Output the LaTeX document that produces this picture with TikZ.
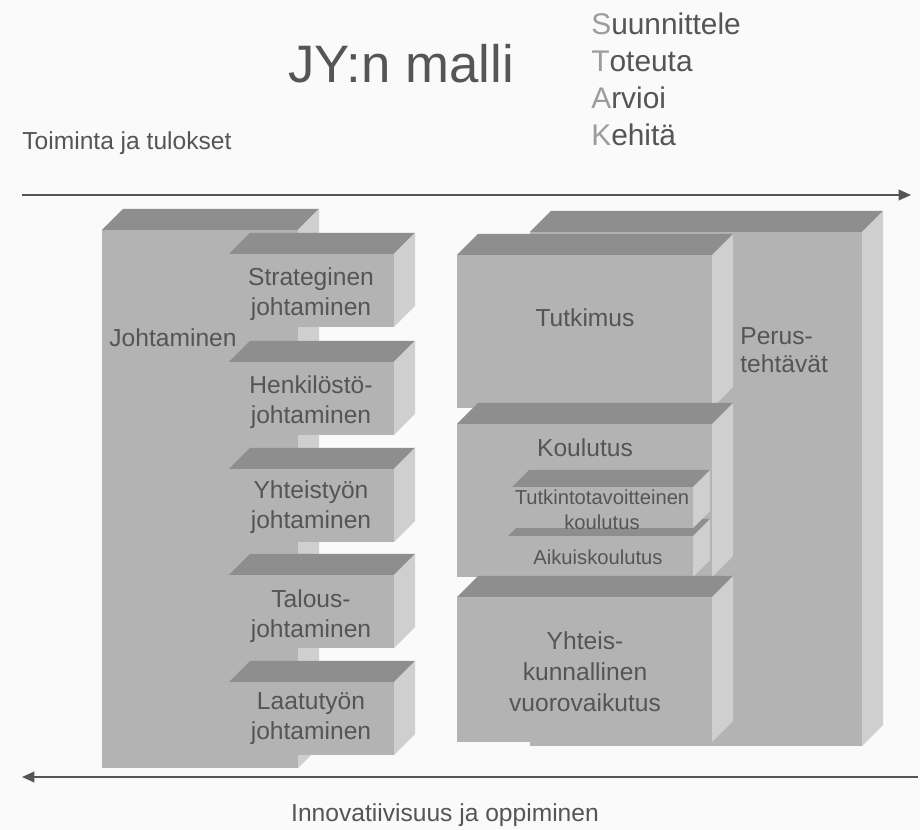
\documentclass[tikz,border=0pt]{standalone}
\usepackage{fontspec}
\setmainfont{Liberation Sans}
\usetikzlibrary{arrows.meta}

\definecolor{etu}{HTML}{B3B3B3}
\definecolor{katto}{HTML}{8E8E8E}
\definecolor{kylki}{HTML}{CFCFCF}
\definecolor{teksti}{HTML}{555555}
\definecolor{vaalea}{HTML}{9C9C9C}

% 3D-laatikko: etusivun vasen yläkulma (#1,#2), oikea alakulma (#3,#4), syvyys #5
\newcommand{\laatikko}[5]{%
  \fill[etu] (#1,#2) rectangle (#3,#4);
  \fill[katto] (#1,#2) -- (#3,#2) -- ++(#5,-#5) -- (#1+#5,#2-#5) -- cycle;
  \fill[kylki] (#3,#2) -- ++(#5,-#5) -- (#3+#5,#4-#5) -- (#3,#4) -- cycle;}

\begin{document}
\begin{tikzpicture}[x=0.02cm,y=-0.02cm,
    lbl/.style={text=teksti,font=\fontsize{14}{17}\selectfont,align=center,inner sep=0pt},
    pieni/.style={lbl,font=\fontsize{11.5}{14}\selectfont},
    nuoli/.style={draw=teksti,line width=1.1pt,-{Triangle[length=7pt,width=6pt]}}]
    \path[use as bounding box,fill=white!98!black] (0,0) rectangle (920,830);

    % otsikot
    \node[text=teksti,font=\fontsize{30}{36}\selectfont,anchor=base west,inner sep=0pt]
        (otsikko) at (288,83) {JY:n malli};
    \foreach \i/\a/\b in {0/S/uunnittele,1/T/oteuta,2/A/rvioi,3/K/ehitä}
        \node[font=\fontsize{17}{20}\selectfont,anchor=base west,inner sep=0pt]
            (vaihe\i) at (591,35+36.7*\i) {\textcolor{vaalea}{\a}\textcolor{teksti}{\b}};
    \node[lbl,anchor=west] (toiminta) at (22,143) {Toiminta ja tulokset};
    \node[lbl] (innovaatio) at (445,815) {Innovatiivisuus ja oppiminen};

    % nuolet
    \coordinate (ylaA) at (22,195);
    \coordinate (ylaB) at (911,195);
    \coordinate (alaA) at (918,777);
    \coordinate (alaB) at (22,777);
    \draw[nuoli] (ylaA) -- (ylaB);
    \draw[nuoli] (alaA) -- (alaB);

    % johtaminen
    \laatikko{102}{230}{298}{768}{21}
    \foreach \y in {254,362,469,575,682}{
        \laatikko{229}{\y}{394}{\y+73}{21}}

    % perustehtävät
    \laatikko{530}{232}{862}{746}{21}
    \laatikko{457}{255}{712}{408}{21}
    \laatikko{457}{424}{712}{577}{21}
    \laatikko{508}{536}{693}{577}{17}
    \laatikko{512}{487}{693}{528}{17}
    \laatikko{457}{597}{712}{742}{21}

    % tekstit
    \node[lbl] (johtaminen) at (173,338) {Johtaminen};
    \node[lbl] (strateginen) at (311,294) {Strateginen\\johtaminen};
    \node[lbl] (henkilosto) at (311,402) {Henkilöstö-\\johtaminen};
    \node[lbl] (yhteistyo) at (311,507) {Yhteistyön\\johtaminen};
    \node[lbl] (talous) at (311,616) {Talous-\\johtaminen};
    \node[lbl] (laatutyo) at (311,719) {Laatutyön\\johtaminen};
    \node[lbl,align=left,anchor=west,font=\fontsize{14}{16}\selectfont]
        (perus) at (740,350) {Perus-\\tehtävät};
    \node[lbl] (tutkimus) at (585,318) {Tutkimus};
    \node[lbl] (koulutus) at (585,448) {Koulutus};
    \node[pieni] (tutkinto) at (602,510) {Tutkintotavoitteinen\\koulutus};
    \node[pieni] (aikuis) at (598,557) {Aikuiskoulutus};
    \node[lbl,font=\fontsize{14}{17.6}\selectfont] (yhteis) at (585,672)
        {Yhteis-\\kunnallinen\\vuorovaikutus};
\end{tikzpicture}
\end{document}
